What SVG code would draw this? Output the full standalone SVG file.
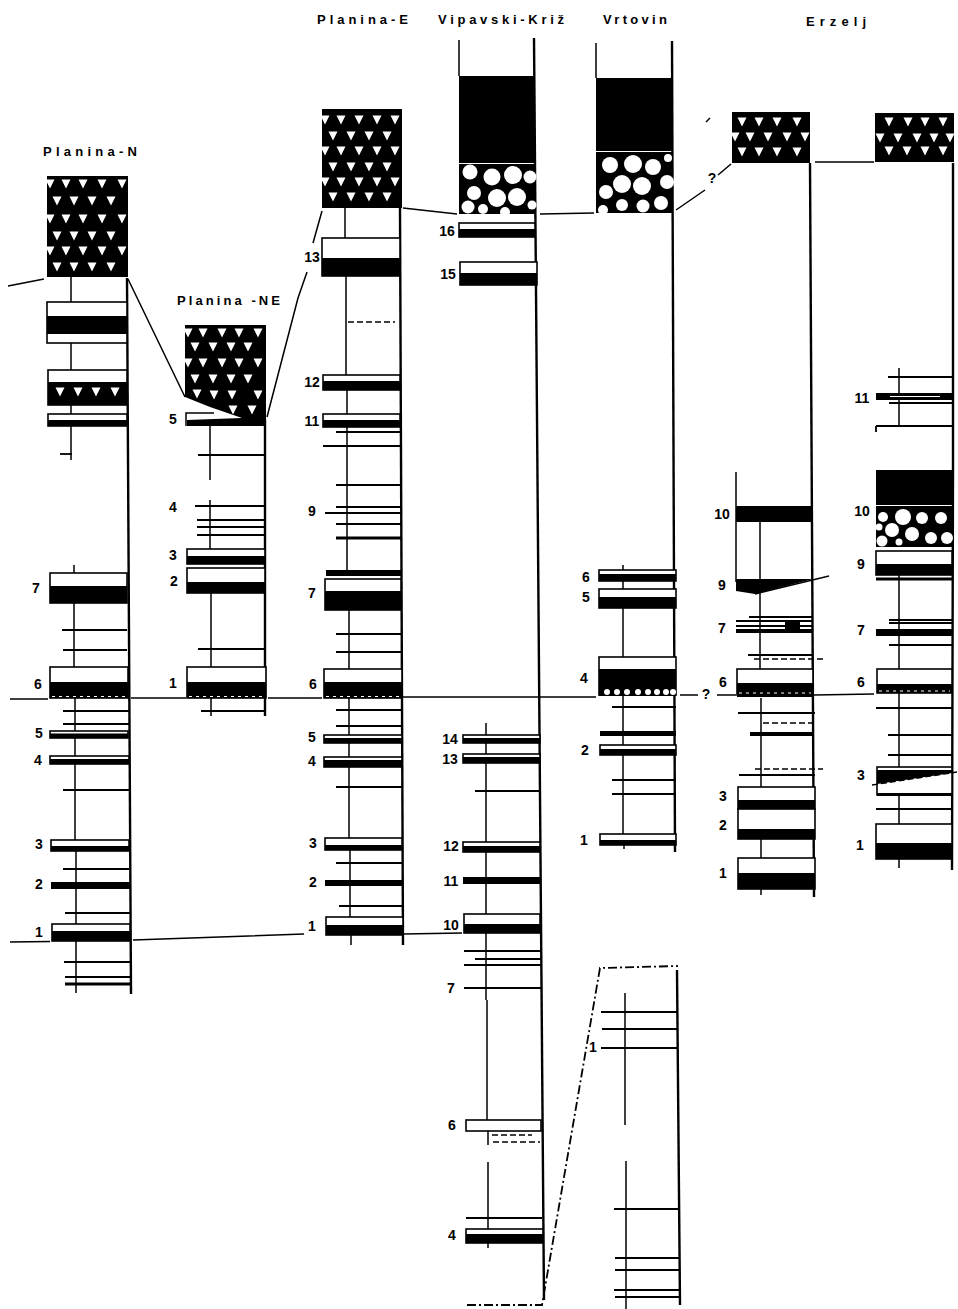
<svg xmlns="http://www.w3.org/2000/svg" width="958" height="1309" viewBox="0 0 958 1309">
<style>
.bg{fill:#fff}
.b{fill:#000;stroke:none}
.w{fill:#fff;stroke:#000;stroke-width:1.6}
.o{fill:#fff;stroke:none}
.a{fill:none;stroke:#000;stroke-width:2.4}
.c{fill:none;stroke:#000;stroke-width:1.5}
.k{fill:none;stroke:#000;stroke-width:1.8}
.kk{fill:none;stroke:#000;stroke-width:3}
.d{fill:none;stroke:#000;stroke-width:1.4;stroke-dasharray:6 3}
.dd{fill:none;stroke:#000;stroke-width:1.8;stroke-dasharray:9 3 2 3}
.wd{fill:none;stroke:#fff;stroke-width:1.2;stroke-dasharray:3 4}
.n{font:bold 14px "Liberation Sans",Arial,sans-serif;fill:#000;text-anchor:middle}
.h{font:bold 13px "Liberation Sans",Arial,sans-serif;fill:#000}
</style>
<defs>
<polygon id="t" points="-4.500,-4.500 4.500,-4.500 0,4.500" fill="#fff"/>
</defs>
<rect class="bg" width="958" height="1309"/>

<g id="titles">
<text class="h" x="43" y="156" textLength="94" lengthAdjust="spacing">Planina-N</text>
<text class="h" x="177" y="305" textLength="103" lengthAdjust="spacing">Planina -NE</text>
<text class="h" x="317" y="24" textLength="91" lengthAdjust="spacing">Planina-E</text>
<text class="h" x="438" y="24" textLength="126" lengthAdjust="spacing">Vipavski-Križ</text>
<text class="h" x="603" y="24" textLength="64" lengthAdjust="spacing">Vrtovin</text>
<text class="h" x="806" y="26" textLength="60" lengthAdjust="spacing">Erzelj</text>
</g>

<g id="connectors">
<path class="c" d="M8 286L44 279M128 279L185 397M267 417L298 298L307 272M313 243L322 211M403 208L457 214M540 214L594 213M676 210L705 190M718 175L731 164"/>
<path class="c" d="M815 162L874 162"/>
<path class="c" d="M10 699L48 699M131 698L186 698M268 698L322 698M403 697L596 697M680 695L698 695M717 695L736 695M814 695L874 694"/>
<path class="c" d="M10 942L50 941.5M133 940L304 934M403 934L462 933"/>
<path class="dd" d="M467 1305L542 1305L600 968L678 966"/>
<path class="c" d="M706 122L710 118"/>
</g>

<g id="log-planina-n">
<path class="a" d="M127 278L131 994"/>
<path class="c" d="M71 277V302M71 343V370M71 405V414M71 426V460M74 565V573M74 603V667M75 698V840M76 850V993"/>
<rect class="b" x="47" y="176" width="81" height="101"/>
<use href="#t" x="50" y="184"/><use href="#t" x="66" y="184"/><use href="#t" x="83" y="184"/><use href="#t" x="102" y="184"/><use href="#t" x="122" y="184"/>
<use href="#t" x="57" y="201"/><use href="#t" x="74" y="201"/><use href="#t" x="92" y="201"/><use href="#t" x="111" y="201"/>
<use href="#t" x="50" y="219"/><use href="#t" x="66" y="219"/><use href="#t" x="83" y="219"/><use href="#t" x="102" y="219"/><use href="#t" x="122" y="219"/>
<use href="#t" x="57" y="236"/><use href="#t" x="74" y="236"/><use href="#t" x="92" y="236"/><use href="#t" x="111" y="236"/>
<use href="#t" x="50" y="251"/><use href="#t" x="66" y="251"/><use href="#t" x="83" y="251"/><use href="#t" x="102" y="251"/><use href="#t" x="122" y="251"/>
<use href="#t" x="57" y="267"/><use href="#t" x="74" y="267"/><use href="#t" x="92" y="267"/><use href="#t" x="111" y="267"/>
<rect class="w" x="47" y="302" width="80" height="41"/><rect class="b" x="47" y="316" width="80" height="18"/>
<rect class="w" x="48" y="370" width="79" height="35"/><rect class="b" x="48" y="382" width="79" height="23"/>
<use href="#t" x="60" y="392"/><use href="#t" x="78" y="392"/><use href="#t" x="96" y="392"/><use href="#t" x="115" y="392"/>
<rect class="w" x="48" y="414" width="79" height="12"/><rect class="b" x="48" y="420" width="79" height="6"/>
<path class="k" d="M60 454H72"/>
<rect class="w" x="50" y="573" width="77" height="30"/><rect class="b" x="50" y="586" width="77" height="17"/>
<path class="k" d="M62 630H127M63 650H127M63 711H129M63 724H129M63 790H129M63 869H129M65 913H130M64 962H130M65 977H130"/>
<path class="kk" d="M65 984H130"/>
<rect class="w" x="50" y="667" width="78" height="31"/><rect class="b" x="50" y="682" width="78" height="16"/>
<path class="wd" d="M52 696.500H126"/>
<rect class="w" x="50" y="731" width="78" height="7"/><rect class="b" x="50" y="733.500" width="78" height="4.500"/>
<rect class="w" x="50" y="756" width="79" height="8"/><rect class="b" x="50" y="759" width="79" height="5"/>
<rect class="w" x="51" y="840" width="78" height="11"/><rect class="b" x="51" y="846" width="78" height="5"/>
<rect class="b" x="51" y="882" width="79" height="7"/>
<rect class="w" x="52" y="924" width="78" height="17"/><rect class="b" x="52" y="931" width="78" height="10"/>
<text class="n" x="36" y="593">7</text><text class="n" x="38" y="689">6</text><text class="n" x="39" y="738">5</text><text class="n" x="38" y="765">4</text><text class="n" x="39" y="849">3</text><text class="n" x="39" y="889">2</text><text class="n" x="39" y="937">1</text>
</g>

<g id="log-planina-ne">
<path class="a" d="M265 420V716"/>
<path class="c" d="M210 426V480M210 500V549M211 593V667M211 698V716"/>
<polygon class="b" points="185,325 266,325 266,426 187,426 187,420 242,418 210,407 185,397"/>
<use href="#t" x="188" y="333"/><use href="#t" x="203" y="333"/><use href="#t" x="222" y="333"/><use href="#t" x="239" y="333"/><use href="#t" x="258" y="333"/>
<use href="#t" x="195" y="347"/><use href="#t" x="213" y="347"/><use href="#t" x="231" y="347"/><use href="#t" x="248" y="347"/>
<use href="#t" x="188" y="363"/><use href="#t" x="203" y="363"/><use href="#t" x="222" y="363"/><use href="#t" x="239" y="363"/><use href="#t" x="258" y="363"/>
<use href="#t" x="195" y="379"/><use href="#t" x="213" y="379"/><use href="#t" x="231" y="379"/><use href="#t" x="248" y="379"/>
<use href="#t" x="197" y="394"/><use href="#t" x="214" y="395"/><use href="#t" x="232" y="395"/><use href="#t" x="258" y="395"/>
<use href="#t" x="233" y="410"/><use href="#t" x="252" y="410"/>
<path class="c" d="M186 426V413H214"/>
<path class="k" d="M198 455H265M195 506H265M197 520H265M197 527H265M197 535H265M198 649H265M201 711H265"/>
<rect class="w" x="187" y="549" width="78" height="15"/><rect class="b" x="187" y="556" width="78" height="8"/>
<rect class="w" x="187" y="568" width="78" height="25"/><rect class="b" x="187" y="582" width="78" height="11"/>
<rect class="w" x="187" y="667" width="79" height="31"/><rect class="b" x="187" y="682" width="79" height="16"/>
<path class="wd" d="M189 696.500H264"/>
<text class="n" x="173" y="424">5</text><text class="n" x="173" y="512">4</text><text class="n" x="173" y="560">3</text><text class="n" x="174" y="586">2</text><text class="n" x="173" y="688">1</text>
</g>

<g id="log-planina-e">
<path class="a" d="M400 208L403 945"/>
<path class="c" d="M345 208V238M346 276V375M347 390V414M347 427V571M349 610V669M349 698V838M350 850V917M351 935V945"/>
<rect class="b" x="322" y="109" width="80" height="99"/>
<use href="#t" x="325" y="120"/><use href="#t" x="341" y="120"/><use href="#t" x="359" y="120"/><use href="#t" x="377" y="120"/><use href="#t" x="395" y="120"/>
<use href="#t" x="333" y="136"/><use href="#t" x="351" y="136"/><use href="#t" x="369" y="136"/><use href="#t" x="387" y="136"/>
<use href="#t" x="325" y="151"/><use href="#t" x="341" y="151"/><use href="#t" x="359" y="151"/><use href="#t" x="377" y="151"/><use href="#t" x="395" y="151"/>
<use href="#t" x="333" y="167"/><use href="#t" x="351" y="167"/><use href="#t" x="369" y="167"/><use href="#t" x="387" y="167"/>
<use href="#t" x="325" y="182"/><use href="#t" x="341" y="182"/><use href="#t" x="359" y="182"/><use href="#t" x="377" y="182"/><use href="#t" x="395" y="182"/>
<use href="#t" x="333" y="197"/><use href="#t" x="351" y="197"/><use href="#t" x="369" y="197"/><use href="#t" x="387" y="197"/>
<rect class="w" x="322" y="238" width="78" height="38"/><rect class="b" x="322" y="258" width="78" height="18"/>
<path class="d" d="M348 322H395"/>
<rect class="w" x="323" y="375" width="77" height="15"/><rect class="b" x="323" y="381" width="77" height="9"/>
<rect class="w" x="323" y="414" width="77" height="13"/><rect class="b" x="323" y="420" width="77" height="7"/>
<path class="k" d="M336 432H400M323 446H400M336 485H401M336 507H401M325 513H401M336 524H401M336 634H401M336 652H401M336 710H402M336 726H402M336 787H402M336 863H402M339 906H403"/>
<path class="kk" d="M336 538H401"/>
<rect class="b" x="326" y="570" width="75" height="6"/>
<rect class="w" x="325" y="579" width="76" height="31"/><rect class="b" x="325" y="591" width="76" height="19"/>
<rect class="w" x="324" y="669" width="78" height="29"/><rect class="b" x="324" y="682" width="78" height="16"/>
<path class="wd" d="M326 696.500H400"/>
<rect class="w" x="324" y="735" width="78" height="8"/><rect class="b" x="324" y="738" width="78" height="5"/>
<rect class="w" x="324" y="757" width="78" height="10"/><rect class="b" x="324" y="760" width="78" height="7"/>
<rect class="w" x="325" y="838" width="77" height="12"/><rect class="b" x="325" y="845" width="77" height="5"/>
<rect class="b" x="325" y="880" width="78" height="6"/>
<rect class="w" x="326" y="917" width="77" height="18"/><rect class="b" x="326" y="925" width="77" height="10"/>
<text class="n" x="312" y="262">13</text><text class="n" x="312" y="387">12</text><text class="n" x="312" y="426">11</text><text class="n" x="312" y="516">9</text><text class="n" x="312" y="598">7</text><text class="n" x="313" y="689">6</text><text class="n" x="312" y="742">5</text><text class="n" x="312" y="766">4</text><text class="n" x="313" y="848">3</text><text class="n" x="313" y="887">2</text><text class="n" x="312" y="931">1</text>
</g>

<g id="log-vipavski-kriz">
<path class="a" d="M534 38L544 1300"/>
<path class="c" d="M459 40V76M486 723V914M486 933V1000M487 1000V1120M488 1131V1145M488 1162V1229M488 1243V1248"/>
<rect class="b" x="459" y="76" width="76" height="87"/>
<rect class="b" x="459" y="164" width="76" height="50"/>
<circle class="o" cx="470" cy="172" r="7.500"/><circle class="o" cx="492" cy="177" r="8.500"/><circle class="o" cx="513" cy="175" r="9"/><circle class="o" cx="530" cy="177" r="6.500"/><circle class="o" cx="474" cy="193" r="7"/><circle class="o" cx="497" cy="198" r="9"/><circle class="o" cx="517" cy="197" r="9"/><circle class="o" cx="532" cy="205" r="4.500"/><circle class="o" cx="468" cy="207" r="6.500"/><circle class="o" cx="483" cy="209" r="5"/><circle class="o" cx="505" cy="212" r="5"/>
<rect class="w" x="459" y="223" width="76" height="14"/><rect class="b" x="459" y="229" width="76" height="8"/>
<rect class="w" x="460" y="262" width="77" height="23"/><rect class="b" x="460" y="273" width="77" height="12"/>
<rect class="w" x="463" y="735" width="77" height="8"/><rect class="b" x="463" y="738" width="77" height="5"/>
<rect class="w" x="463" y="754" width="77" height="9"/><rect class="b" x="463" y="757" width="77" height="6"/>
<path class="k" d="M475 791H540M464 951H541M475 959H541M464 965H541M464 988H541M466 1218H542"/>
<rect class="w" x="463" y="842" width="77" height="10"/><rect class="b" x="463" y="846" width="77" height="6"/>
<rect class="b" x="463" y="877" width="77" height="7"/>
<rect class="w" x="464" y="914" width="76" height="19"/><rect class="b" x="464" y="924" width="76" height="9"/>
<rect class="w" x="466" y="1120" width="75" height="11"/>
<path class="d" d="M492 1135H532M493 1142H540"/>
<rect class="w" x="466" y="1229" width="77" height="14"/><rect class="b" x="466" y="1234" width="77" height="9"/>
<text class="n" x="447" y="236">16</text><text class="n" x="448" y="279">15</text><text class="n" x="450" y="744">14</text><text class="n" x="450" y="764">13</text><text class="n" x="451" y="851">12</text><text class="n" x="451" y="886">11</text><text class="n" x="451" y="930">10</text><text class="n" x="451" y="993">7</text><text class="n" x="452" y="1130">6</text><text class="n" x="452" y="1240">4</text>
</g>

<g id="log-vrtovin">
<path class="a" d="M672 41L675 852"/>
<path class="c" d="M596 43V78M623 565V570M623 581V589M623 608V657M623 695V834M624 845V849"/>
<rect class="b" x="596" y="78" width="77" height="73"/>
<rect class="b" x="596" y="152" width="77" height="61"/>
<circle class="o" cx="610" cy="165" r="8"/><circle class="o" cx="633" cy="164" r="9"/><circle class="o" cx="653" cy="167" r="8"/><circle class="o" cx="668" cy="158" r="4"/><circle class="o" cx="667" cy="182" r="7"/><circle class="o" cx="622" cy="184" r="9"/><circle class="o" cx="642" cy="186" r="9"/><circle class="o" cx="606" cy="192" r="7"/><circle class="o" cx="622" cy="205" r="6"/><circle class="o" cx="643" cy="206" r="6.500"/><circle class="o" cx="661" cy="203" r="7"/><circle class="o" cx="603" cy="210" r="5"/>
<rect class="w" x="599" y="570" width="77" height="11"/><rect class="b" x="599" y="574" width="77" height="7"/>
<rect class="w" x="599" y="589" width="77" height="19"/><rect class="b" x="599" y="597" width="77" height="11"/>
<rect class="w" x="599" y="657" width="77" height="38"/><rect class="b" x="599" y="669" width="77" height="27"/>
<circle class="o" cx="607" cy="692" r="3"/><circle class="o" cx="617" cy="692" r="3"/><circle class="o" cx="627" cy="692" r="3"/><circle class="o" cx="638" cy="692" r="3"/><circle class="o" cx="648" cy="692" r="3"/><circle class="o" cx="657" cy="692" r="3"/><circle class="o" cx="666" cy="692" r="3"/><circle class="o" cx="673" cy="692" r="3"/>
<path class="k" d="M612 707H676M612 780H676M612 794H676"/>
<rect class="b" x="600" y="731" width="76" height="5"/>
<rect class="w" x="600" y="745" width="76" height="10"/><rect class="b" x="600" y="749" width="76" height="6"/>
<rect class="w" x="600" y="834" width="76" height="11"/><rect class="b" x="600" y="840" width="76" height="5"/>
<text class="n" x="586" y="582">6</text><text class="n" x="586" y="602">5</text><text class="n" x="584" y="683">4</text><text class="n" x="585" y="755">2</text><text class="n" x="584" y="845">1</text>
</g>

<g id="log-vrtovin-lower">
<path class="a" d="M677 970L680 1305"/>
<path class="c" d="M625 993V1125M626 1161V1309"/>
<path class="k" d="M601 1012H677M602 1029H677M601 1048H678M614 1209H680M615 1258H680M615 1270H680M614 1290H680M615 1297H680"/>
<text class="n" x="593" y="1052">1</text>
</g>

<g id="log-erzelj-w">
<path class="a" d="M810 163L814 897"/>
<path class="c" d="M736 472V582M760 522V579M760 592V669M761 698V787M761 839V858M761 889V895"/>
<rect class="b" x="732" y="112" width="78" height="51"/>
<use href="#t" x="742" y="122"/><use href="#t" x="759" y="122"/><use href="#t" x="777" y="122"/><use href="#t" x="797" y="122"/>
<use href="#t" x="735" y="137"/><use href="#t" x="750" y="137"/><use href="#t" x="768" y="137"/><use href="#t" x="787" y="137"/><use href="#t" x="805" y="137"/>
<use href="#t" x="742" y="152"/><use href="#t" x="759" y="152"/><use href="#t" x="777" y="152"/><use href="#t" x="797" y="152"/>
<rect class="b" x="736" y="506" width="76" height="16"/>
<polygon class="b" points="736,579 813,579 755,594 736,591"/>
<path class="c" d="M755 594L829 576"/>
<path class="k" d="M749 617H812M748 655H812M738 713H815M739 775H815"/>
<rect class="b" x="736" y="620" width="76" height="2"/><rect class="b" x="736" y="625" width="76" height="2"/><rect class="b" x="736" y="629" width="76" height="4"/><rect class="b" x="785" y="621" width="15" height="8"/>
<path class="d" d="M754 659H823M763 723H815M755 769H823"/>
<rect class="w" x="737" y="669" width="76" height="26"/><rect class="b" x="737" y="683" width="76" height="14"/>
<path class="wd" d="M739 693H811"/>
<rect class="b" x="750" y="732" width="64" height="4"/>
<rect class="w" x="738" y="787" width="77" height="22"/><rect class="b" x="738" y="800" width="77" height="9"/>
<rect class="w" x="738" y="809" width="77" height="30"/><rect class="b" x="738" y="829" width="77" height="10"/>
<rect class="w" x="738" y="858" width="77" height="31"/><rect class="b" x="738" y="873" width="77" height="16"/>
<text class="n" x="722" y="519">10</text><text class="n" x="722" y="590">9</text><text class="n" x="722" y="633">7</text><text class="n" x="723" y="687">6</text><text class="n" x="723" y="801">3</text><text class="n" x="723" y="830">2</text><text class="n" x="723" y="878">1</text>
<text class="n" x="712" y="183">?</text><text class="n" x="706" y="699">?</text>
</g>

<g id="log-erzelj-e">
<path class="a" d="M953 163V470M953 470L952 870"/>
<path class="c" d="M899 368V426M899 575V669M899 693V767M899 796V824M899 859V868"/>
<rect class="b" x="875" y="113" width="79" height="49"/>
<use href="#t" x="889" y="122"/><use href="#t" x="908" y="122"/><use href="#t" x="925" y="122"/><use href="#t" x="943" y="122"/>
<use href="#t" x="880" y="138"/><use href="#t" x="898" y="138"/><use href="#t" x="917" y="138"/><use href="#t" x="934" y="138"/><use href="#t" x="950" y="138"/>
<use href="#t" x="889" y="151"/><use href="#t" x="907" y="151"/><use href="#t" x="925" y="151"/><use href="#t" x="943" y="151"/>
<path class="k" d="M888 377H953M889 403H953M876 426H953M876 426V432M889 620H952M889 645H952M876 708H952M888 735H952M888 755H952M876 809H952"/>
<rect class="b" x="876" y="393" width="77" height="7"/><rect class="o" x="890" y="396" width="50" height="1"/>
<rect class="b" x="876" y="470" width="77" height="35"/>
<rect class="b" x="876" y="506" width="77" height="41"/>
<circle class="o" cx="883" cy="517" r="5"/><circle class="o" cx="903" cy="517" r="8"/><circle class="o" cx="922" cy="518" r="6"/><circle class="o" cx="941" cy="518" r="6"/><circle class="o" cx="879" cy="527" r="3.500"/><circle class="o" cx="892" cy="530" r="7"/><circle class="o" cx="912" cy="534" r="7"/><circle class="o" cx="931" cy="538" r="6"/><circle class="o" cx="947" cy="538" r="6"/><circle class="o" cx="882" cy="541" r="5.500"/><circle class="o" cx="899" cy="542" r="3.500"/>
<rect class="w" x="876" y="551" width="76" height="24"/><rect class="b" x="876" y="564" width="76" height="11"/>
<path class="kk" d="M876 579H952"/>
<rect class="b" x="876" y="629" width="76" height="7"/><rect class="b" x="889" y="622" width="63" height="2"/>
<rect class="w" x="877" y="669" width="75" height="24"/><rect class="b" x="877" y="684" width="75" height="9"/>
<path class="wd" d="M879 691H950"/>
<rect class="w" x="877" y="767" width="75" height="28"/><polygon class="b" points="877,770 952,770 952,773 877,784"/><rect class="b" x="877" y="793" width="75" height="3"/>
<path class="d" d="M872 785L957 772"/>
<rect class="w" x="876" y="824" width="76" height="35"/><rect class="b" x="876" y="843" width="76" height="16"/>
<text class="n" x="862" y="403">11</text><text class="n" x="862" y="516">10</text><text class="n" x="861" y="569">9</text><text class="n" x="861" y="635">7</text><text class="n" x="861" y="687">6</text><text class="n" x="861" y="780">3</text><text class="n" x="860" y="850">1</text>
</g>
</svg>
